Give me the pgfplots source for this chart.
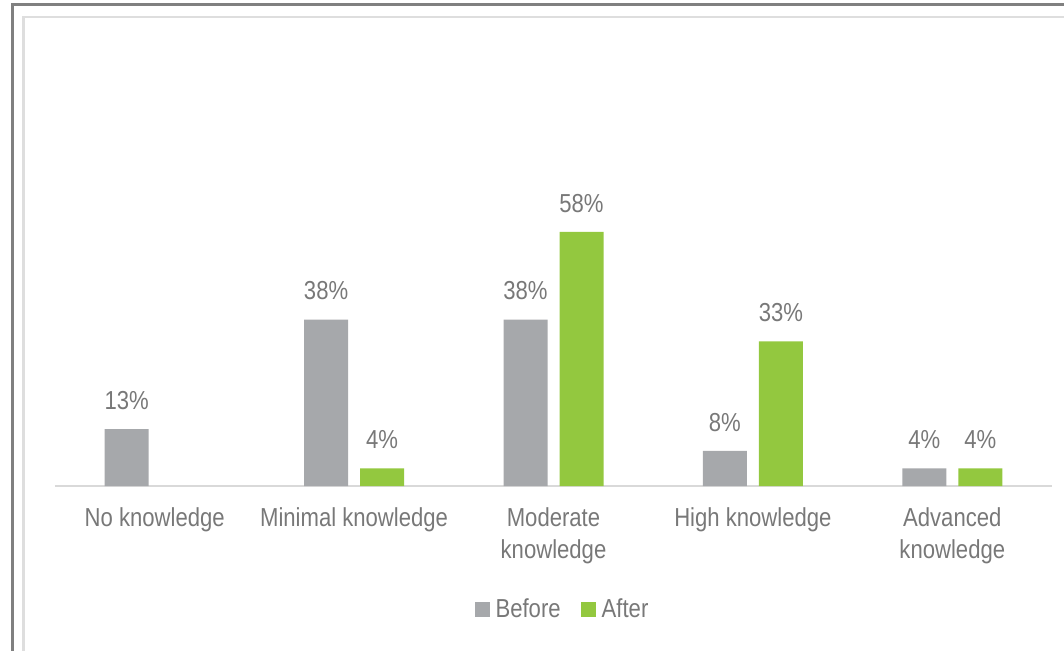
\documentclass[border=0pt]{standalone}
\usepackage{fontspec}
\setmainfont{Liberation Sans}[FakeStretch=0.85]
\usepackage{pgfplots}
\pgfplotsset{compat=1.18}
\definecolor{beforec}{HTML}{A6A8AB}
\definecolor{afterc}{HTML}{93C83F}
\definecolor{txt}{HTML}{787878}
\definecolor{axl}{HTML}{D9D9D9}
\definecolor{outerc}{HTML}{808080}
\definecolor{innerc}{HTML}{DEDEDE}
\begin{document}
\begin{tikzpicture}
\useasboundingbox (-27.5pt,-82pt) rectangle (504.5pt,243pt);
\draw[outerc, line width=1.1pt] (-21.25pt,-120pt) -- (-21.25pt,240.75pt) -- (560pt,240.75pt);
\draw[innerc, line width=1.1pt] (-15.75pt,-120pt) -- (-15.75pt,234.5pt) -- (560pt,234.5pt);
\begin{axis}[
  at={(0,0)}, anchor=south west,
  width=498.5pt, height=219pt, scale only axis,
  xmin=-0.5, xmax=4.5, ymin=0, ymax=100,
  axis x line*=bottom, hide y axis,
  axis line style={axl, line width=1.25pt, -},
  /pgf/number format/assume math mode=true,
  xtick={0,1,2,3,4},
  xticklabels={No knowledge, Minimal knowledge, {Moderate\\knowledge}, High knowledge, {Advanced\\knowledge}},
  major tick length=0pt, xtick style={draw=none},
  xticklabel style={align=center, anchor=north, inner sep=0pt, yshift=-10.8pt, text=txt, font=\fontsize{13}{16}\selectfont},
  ybar, bar width=22pt,
  nodes near coords={\pgfmathprintnumber{\pgfplotspointmeta}\%},
  every node near coord/.append style={inner sep=0pt, yshift=9.5pt, text=txt, font=\fontsize{13}{16}\selectfont},
  legend style={at={(0.51,-0.283)}, anchor=center, draw=none, legend columns=2, text=txt,
    font=\fontsize{13}{16}\selectfont,
    /tikz/every odd column/.append style={column sep=1pt},
    /tikz/every even column/.append style={column sep=8pt}},
  legend image code/.code={\fill[#1] (0pt,-3.75pt) rectangle (7.5pt,3.75pt);},
  clip=false,
]
\addplot[draw=none, fill=beforec, bar shift=-14pt] coordinates {(0,13) (1,38) (2,38) (3,8) (4,4)};
\addplot[draw=none, fill=afterc, bar shift=14pt] coordinates {(1,4) (2,58) (3,33) (4,4)};
\legend{Before, After}
\end{axis}
\end{tikzpicture}
\end{document}
